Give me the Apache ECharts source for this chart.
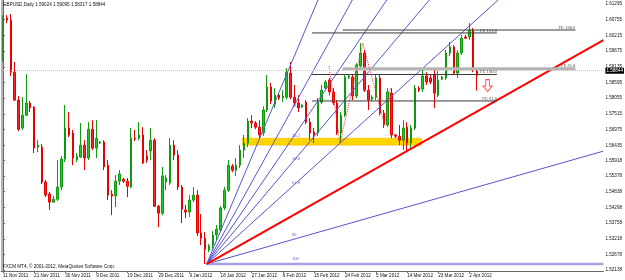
<!DOCTYPE html>
<html><head><meta charset="utf-8">
<script src="https://cdn.jsdelivr.net/npm/echarts@6/dist/echarts.min.js"></script>
<style>html,body{margin:0;padding:0;background:#fff}#c{width:625px;height:280px}</style>
</head><body><div id="c"></div>
<script>
// ---- data ----
const xTickLabels = ['11 Nov 2011','21 Nov 2011','30 Nov 2011','9 Dec 2011','19 Dec 2011','29 Dec 2011','9 Jan 2012','18 Jan 2012','27 Jan 2012','6 Feb 2012','15 Feb 2012','24 Feb 2012','5 Mar 2012','14 Mar 2012','23 Mar 2012','2 Apr 2012'];
const yTickValues = [1.61295,1.60755,1.60215,1.59675,1.59135,1.58595,1.58055,1.57515,1.56975,1.56435,1.55918,1.55378,1.54838,1.54298,1.53758,1.53218,1.52678,1.52138];
const open = [1.5937,1.6081,1.6074,1.5895,1.5799,1.5703,1.5747,1.5789,1.5775,1.5637,1.5637,1.5517,1.5476,1.5448,1.5458,1.5500,1.5596,1.5703,1.5686,1.5593,1.5603,1.5644,1.5600,1.5699,1.5634,1.5651,1.5655,1.5575,1.5476,1.5469,1.5520,1.5527,1.5520,1.5500,1.5668,1.5668,1.5679,1.5607,1.5624,1.5661,1.5434,1.5410,1.5517,1.5514,1.5644,1.5610,1.5500,1.5421,1.5414,1.5455,1.5472,1.5342,1.5324,1.5283,1.5300,1.5335,1.5352,1.5428,1.5489,1.5572,1.5558,1.5575,1.5627,1.5651,1.5727,1.5720,1.5706,1.5686,1.5765,1.5844,1.5785,1.5816,1.5806,1.5809,1.5892,1.5809,1.5789,1.5775,1.5792,1.5723,1.5689,1.5686,1.5792,1.5840,1.5868,1.5827,1.5789,1.5686,1.5747,1.5878,1.5878,1.5813,1.5916,1.5961,1.5833,1.5802,1.5809,1.5875,1.5754,1.5713,1.5823,1.5679,1.5675,1.5661,1.5706,1.5651,1.5703,1.5840,1.5837,1.5882,1.5875,1.5885,1.5816,1.5871,1.5875,1.5961,1.5982,1.5892,1.5961,1.6016,1.6016,1.6040,1.59024];
const close = [1.6081,1.6074,1.5895,1.5799,1.5699,1.5747,1.5789,1.5772,1.5634,1.5644,1.5517,1.5472,1.5448,1.5458,1.5500,1.5596,1.5703,1.5679,1.5600,1.5606,1.5644,1.5600,1.5699,1.5634,1.5668,1.5655,1.5569,1.5472,1.5469,1.5520,1.5545,1.5520,1.5503,1.5668,1.5665,1.5679,1.5583,1.5593,1.5661,1.5434,1.5410,1.5538,1.5531,1.5644,1.5610,1.5500,1.5424,1.5414,1.5455,1.5472,1.5342,1.5324,1.5286,1.5297,1.5335,1.5355,1.5428,1.5489,1.5575,1.5558,1.5575,1.5627,1.5651,1.5727,1.5720,1.5706,1.5679,1.5765,1.5844,1.5796,1.5816,1.5806,1.5813,1.5895,1.5809,1.5789,1.5772,1.5782,1.5723,1.5686,1.5679,1.5792,1.5833,1.5861,1.5827,1.5789,1.5686,1.5747,1.5878,1.5882,1.5813,1.5920,1.5961,1.5833,1.5799,1.5809,1.5875,1.5754,1.5713,1.5827,1.5679,1.5675,1.5661,1.5703,1.5651,1.5703,1.5840,1.5833,1.5882,1.5861,1.5861,1.5823,1.5868,1.5878,1.5961,1.5982,1.5892,1.5961,1.6012,1.6012,1.6040,1.5902,1.58844];
const low = [1.5930,1.6064,1.5882,1.5796,1.5692,1.5696,1.5744,1.5758,1.5617,1.5620,1.5510,1.5465,1.5421,1.5445,1.5452,1.5489,1.5586,1.5672,1.5575,1.5586,1.5600,1.5558,1.5593,1.5627,1.5600,1.5648,1.5558,1.5455,1.5403,1.5431,1.5507,1.5514,1.5465,1.5496,1.5658,1.5661,1.5579,1.5583,1.5593,1.5431,1.5362,1.5403,1.5489,1.5507,1.5593,1.5489,1.5376,1.5393,1.5397,1.5448,1.5331,1.5300,1.5235,1.5276,1.5283,1.5317,1.5345,1.5421,1.5483,1.5551,1.5538,1.5565,1.5600,1.5637,1.5703,1.5699,1.5668,1.5675,1.5758,1.5785,1.5772,1.5799,1.5792,1.5802,1.5802,1.5778,1.5758,1.5772,1.5716,1.5661,1.5651,1.5675,1.5785,1.5837,1.5816,1.5782,1.5679,1.5651,1.5741,1.5871,1.5799,1.5806,1.5902,1.5827,1.5765,1.5796,1.5799,1.5747,1.5703,1.5706,1.5668,1.5668,1.5644,1.5627,1.5624,1.5634,1.5696,1.5827,1.5827,1.5851,1.5854,1.5772,1.5809,1.5868,1.5868,1.5950,1.5885,1.5875,1.5954,1.6009,1.6006,1.5895,1.58317];
const high = [1.6091,1.6091,1.6095,1.5930,1.5813,1.5809,1.5888,1.5796,1.5778,1.5661,1.5648,1.5524,1.5483,1.5469,1.5593,1.5606,1.5782,1.5758,1.5696,1.5617,1.5720,1.5661,1.5723,1.5730,1.5730,1.5658,1.5661,1.5593,1.5489,1.5541,1.5558,1.5531,1.5531,1.5703,1.5696,1.5723,1.5706,1.5627,1.5703,1.5668,1.5438,1.5569,1.5541,1.5668,1.5661,1.5627,1.5507,1.5438,1.5472,1.5500,1.5489,1.5407,1.5345,1.5304,1.5348,1.5369,1.5434,1.5500,1.5593,1.5579,1.5600,1.5644,1.5679,1.5737,1.5747,1.5727,1.5730,1.5778,1.5885,1.5858,1.5840,1.5823,1.5833,1.5909,1.5930,1.5851,1.5816,1.5785,1.5799,1.5737,1.5703,1.5806,1.5851,1.5868,1.5875,1.5840,1.5799,1.5758,1.5885,1.5888,1.5888,1.5926,1.5995,1.5971,1.5851,1.5816,1.5885,1.5885,1.5765,1.5840,1.5840,1.5682,1.5713,1.5730,1.5723,1.5713,1.5851,1.5847,1.5909,1.5895,1.5885,1.5909,1.5909,1.5882,1.5971,1.5999,1.5988,1.5971,1.6023,1.6023,1.6064,1.6047,1.59095];
const bidPrice = 1.58844;
const titleText = 'GBPUSD,Daily 1.59024 1.59095 1.58317 1.58844';
const copyrightText = 'FXCM MT4, \u00A9 2001-2012, MetaQuotes Software Corp.';

// drawn objects, in (bar index, price)
const barCount = 155;
const fanOrigin = [52.4, 1.5235];
const fanEnd = [74.1, 1.5923];
const fanLevels = [0, 23.6, 38.2, 50, 61.8, 88, 100];
const fanLabels = ['', '23.6', '38.2', '50.0', '61.8', '88', '100'];
const trendPoints = [[52.4, 1.5235], [154.5, 1.6005]];
const zoneBars = [61.6, 107.7];
const zonePrices = [1.5668, 1.5644];
const feA_bars = [87.4, 147.3];
const feA_names = ['FE 180.0', 'FE 61.8'];
const feA_prices = [1.6040, 1.5907];
const feB_bars = [79.5, 127.1];
const feB_names = ['FE 161.8', 'FE 100.0', 'FE 61.8'];
const feB_prices = [1.6030, 1.5887, 1.5796];
const zigzagBars = [83.9, 86.7, 92.6, 98.2, 99.7];
const zigzagPrices = [1.5916, 1.5651, 1.5995, 1.5713, 1.5840];
const arrowPoint = [124.7, 1.5849];

// ---- chart ----
const FONT = 'Liberation Sans';
const FS = 4.6;
const cats = Array.from({length: barCount}, (_, i) => i);
const candleData = open.map((o, i) => [o, close[i], low[i], high[i]]);
const XR = barCount - 0.5;
const showTick = (i) => i % 8 === 0 && i / 8 < xTickLabels.length;

function fanPrice(level, x) {
  const pL = fanEnd[1] - level / 100 * (fanEnd[1] - fanOrigin[1]);
  return fanOrigin[1] + (pL - fanOrigin[1]) * (x - fanOrigin[0]) / (fanEnd[0] - fanOrigin[0]);
}

const series = [];
series.push({
  type: 'line', xAxisIndex: 1, yAxisIndex: 0, data: [[zoneBars[0], zonePrices[0]]], showSymbol: false, symbol: 'none', z: 1, silent: true,
  markArea: { silent: true, itemStyle: { color: '#ffd500', borderColor: '#f0b000', borderWidth: 1, borderType: 'dotted' },
    data: [[{ coord: [zoneBars[0], zonePrices[0]] }, { coord: [zoneBars[1], zonePrices[1]] }]] }
});
series.push({
  type: 'candlestick', xAxisIndex: 0, yAxisIndex: 0, data: candleData, barWidth: 2, z: 3,
  itemStyle: { color: '#1fcc1f', color0: '#ff2424', borderColor: '#0d9a0d', borderColor0: '#e80000', borderWidth: 1 },
  markLine: { silent: true, symbol: 'none', data: [{ yAxis: bidPrice }],
    lineStyle: { color: '#c4c4c4', type: 'dotted', width: 1 },
    label: { show: true, position: 'end', distance: 2, formatter: bidPrice.toFixed(5), color: '#fff', backgroundColor: '#000',
      fontSize: FS, fontFamily: FONT, padding: [1, 1, 0, 1] } }
});
fanLevels.forEach((lv) => {
  series.push({
    type: 'line', xAxisIndex: 1, yAxisIndex: 0, symbol: 'none', silent: true, z: 4,
    data: [[fanOrigin[0], fanOrigin[1]], [XR, fanPrice(lv, XR)]],
    lineStyle: lv === 100 ? { color: '#a3a3e6', width: 2.5 } : { color: '#5656cc', width: 1 }
  });
});
series.push({
  type: 'line', xAxisIndex: 1, yAxisIndex: 0, symbol: 'none', silent: true, z: 4,
  data: trendPoints, lineStyle: { color: '#ff0000', width: 2 }
});
function feSeries(bars, prices, names) {
  prices.forEach((p, k) => {
    const grey = names[k] === 'FE 61.8' && bars === feA_bars;
    series.push({
      type: 'line', xAxisIndex: 1, yAxisIndex: 0, symbol: 'none', silent: true, z: 4,
      data: [[bars[0], p], [bars[1], p]],
      lineStyle: grey ? { color: '#b4b4b4', width: 3 } : { color: '#3c3c3c', width: 1 }
    });
  });
}
feSeries(feA_bars, feA_prices, feA_names);
feSeries(feB_bars, feB_prices, feB_names);
series.push({
  type: 'line', xAxisIndex: 1, yAxisIndex: 0, symbol: 'none', silent: true, z: 4,
  data: zigzagBars.map((b, i) => [b, zigzagPrices[i]]),
  lineStyle: { color: '#ff3030', width: 1, type: 'dotted' }
});
// labels
const labelData = [];
fanLevels.forEach((lv, k) => {
  if (!fanLabels[k]) return;
  labelData.push({ value: [fanEnd[0], fanPrice(lv, fanEnd[0])],
    label: { show: true, formatter: fanLabels[k], position: 'right', distance: 0, offset: [1, -5], color: '#3c3cb0', fontSize: FS, fontFamily: 'Liberation Serif' } });
});
[[feA_bars, feA_prices, feA_names], [feB_bars, feB_prices, feB_names]].forEach(([bars, prices, names]) => {
  prices.forEach((p, k) => {
    labelData.push({ value: [bars[1], p],
      label: { show: true, formatter: names[k], position: 'left', distance: 0, offset: [0, -2.5], color: '#222', fontSize: FS, fontFamily: 'Liberation Serif' } });
  });
});
series.push({ type: 'scatter', xAxisIndex: 1, yAxisIndex: 0, symbolSize: 0, silent: true, z: 5, data: labelData });
series.push({
  type: 'scatter', xAxisIndex: 1, yAxisIndex: 0, silent: true, z: 5,
  symbol: 'path://M3,0L7,0L7,7L10,7L5,13L0,7L3,7Z', symbolSize: [9, 12],
  itemStyle: { color: 'rgba(255,255,255,0)', borderColor: '#ff2020', borderWidth: 1 },
  data: [arrowPoint]
});

const option = {
  animation: false,
  backgroundColor: '#ffffff',
  grid: { left: -0.6, right: 20, top: 0, bottom: 9, containLabel: false },
  xAxis: [
    { type: 'category', data: cats, boundaryGap: true,
      axisLine: { show: true, lineStyle: { color: '#6a6a6a', width: 1 } },
      axisTick: { show: true, alignWithLabel: true, interval: (i) => showTick(i), length: 2, lineStyle: { color: '#6a6a6a' } },
      axisLabel: { show: true, interval: (i) => showTick(i), formatter: (v) => xTickLabels[v / 8], align: 'left', margin: 2,
        fontSize: FS, fontFamily: FONT, color: '#111' },
      splitLine: { show: false } },
    { type: 'value', min: -0.5, max: barCount - 0.5, show: false }
  ],
  yAxis: [{
    type: 'value', position: 'right', min: 1.52111, max: 1.61433,
    axisLine: { show: true, lineStyle: { color: '#6a6a6a', width: 1 } },
    axisTick: { show: true, length: 2, customValues: yTickValues, lineStyle: { color: '#6a6a6a' } },
    axisLabel: { show: true, customValues: yTickValues, formatter: (v) => v.toFixed(5), margin: 2, fontSize: FS, fontFamily: FONT, color: '#111' },
    splitLine: { show: false }
  }],
  graphic: [
    { type: 'line', shape: { x1: 2, y1: 0, x2: 2, y2: 271 }, style: { stroke: '#6a6a6a', lineWidth: 1 }, z: 10 },
    { type: 'text', left: 3, top: 2, style: { text: titleText, fontSize: FS, fontFamily: FONT, fill: '#111' }, z: 10 },
    { type: 'text', left: 3, top: 264, style: { text: copyrightText, fontSize: FS, fontFamily: FONT, fill: '#111' }, z: 10 }
  ],
  series: series
};
const chart = echarts.init(document.getElementById('c'));
chart.setOption(option);
</script>
</body></html>
